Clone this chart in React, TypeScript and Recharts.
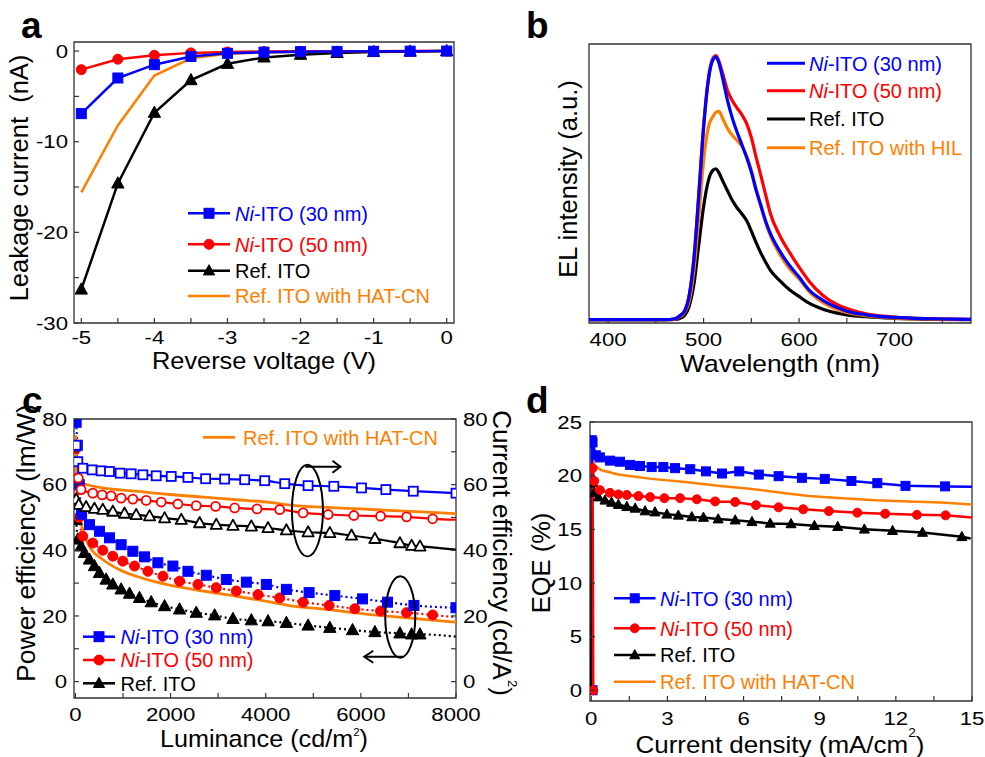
import React from 'react';
import { LineChart, Line, XAxis, YAxis, ReferenceArea, ReferenceDot } from 'recharts';

const FONT = '"Liberation Sans", Arial, Helvetica, sans-serif';
const BLUE = '#0000FF';
const RED = '#FF0000';
const BLACK = '#000000';
const ORANGE = '#FF8000';
const FRAME = '#333333';
const W = 985;
const H = 757;
const TICK_FS = 18.5;
const TICK_SX = 1.2;

// ---------------- Panel a : leakage current ----------------
const voltage = [-5, -4.5, -4, -3.5, -3, -2.5, -2, -1.5, -1, -0.5, 0];
const leakNi30 = [-6.9, -2.97, -1.5, -0.6, -0.25, -0.12, -0.07, -0.04, -0.02, -0.01, 0];
const leakNi50 = [-2.05, -0.9, -0.47, -0.2, -0.1, -0.05, -0.03, -0.02, -0.01, 0, 0];
const leakRef = [-26.3, -14.6, -6.8, -3.2, -1.4, -0.7, -0.4, -0.2, -0.1, -0.05, 0];
const leakHat = [-15.6, -8.2, -2.7, -0.8, -0.3, -0.15, -0.08, -0.05, -0.02, -0.01, 0];
const aXTicks = [-5, -4.5, -4, -3.5, -3, -2.5, -2, -1.5, -1, -0.5, 0];
const aYTicks = [-30, -25, -20, -15, -10, -5, 0];

// ---------------- Panel b : EL spectra ----------------
const wavelength = [380, 460, 470, 475, 480, 485, 490, 495, 500, 505, 510, 513, 516, 520, 525, 530, 535, 540, 545, 550, 555, 560, 565, 570, 580, 590, 600, 610, 625, 640, 650, 670, 700, 740, 780];
const elNi30 = [0, 0, 0.3, 1.2, 2.6, 7.5, 19, 38, 58.5, 73, 79.3, 80, 78.3, 73.5, 66.8, 61.5, 57.2, 53.4, 49.5, 45, 39.4, 34.8, 30, 26.2, 20.8, 16.5, 13, 9.2, 5.9, 3.7, 2.6, 1.5, 0.7, 0.3, 0.1];
const elNi50 = [0, 0, 0.3, 1.2, 2.6, 7.5, 19, 38.5, 59, 73.5, 79.8, 80.5, 78.8, 75, 69.8, 66.8, 64.5, 62.5, 59.8, 55.5, 49.5, 43.9, 38, 32.3, 25.5, 20.5, 16, 11.9, 7.4, 4.6, 3.4, 1.8, 0.8, 0.3, 0.1];
const elRef = [0, 0, 0.1, 0.4, 1.3, 4.2, 11, 23, 34.5, 42.4, 45.6, 46, 44.8, 42.3, 39.3, 36.4, 34.1, 32.3, 30.2, 27, 23.5, 20.3, 17.5, 15, 11.8, 9.1, 7.1, 5.1, 3.2, 2.0, 1.5, 0.9, 0.4, 0.1, 0];
const elHil = [0, 0, 0.2, 0.9, 2.2, 5.8, 15.5, 31.5, 48.5, 58.7, 62, 63.2, 63.5, 61.3, 58.3, 56.2, 54.6, 52.9, 50, 45.5, 40, 34.5, 29.5, 25.5, 19.8, 15.5, 12.4, 8.7, 5.2, 3.1, 2.2, 1.2, 0.5, 0.2, 0.05];
const bXTicks = [400, 450, 500, 550, 600, 650, 700, 750];

// ---------------- Panel c : efficiencies vs luminance ----------------
// current efficiency (right axis, open symbols)
const ceNi30 = [[10, 72], [50, 67], [154, 65], [351, 64.5], [540, 64.2], [716, 64.0], [940, 63.5], [1172, 63.3], [1418, 63.0], [1698, 62.7], [2014, 62.5], [2365, 62.2], [2737, 61.8], [3137, 61.7], [3558, 61.5], [3979, 61.2], [4400, 60.3], [4891, 59.7], [5432, 59.5], [6014, 59.0], [6526, 58.5], [7102, 58.0], [8000, 57.4]];
const ceNi50 = [[15, 72], [60, 62], [119, 58.5], [365, 57.4], [561, 56.9], [751, 56.6], [961, 55.9], [1207, 55.6], [1488, 55.2], [1804, 54.7], [2154, 54.1], [2540, 53.6], [2947, 53.4], [3347, 52.9], [3818, 52.6], [4295, 52.4], [4786, 51.4], [5312, 50.9], [5853, 50.6], [6414, 50.4], [6961, 50.2], [7509, 49.6], [8000, 49.3]];
const ceRef = [[15, 55.5], [70, 53.9], [225, 53.2], [400, 52.7], [575, 52.4], [786, 51.8], [1032, 51.2], [1277, 50.8], [1558, 50.4], [1874, 49.8], [2225, 49.3], [2611, 48.3], [2961, 47.8], [3312, 47.5], [3698, 47.3], [4049, 46.8], [4435, 46.1], [4891, 45.5], [5347, 45.3], [5804, 44.5], [6295, 43.5], [6821, 42.2], [7067, 41.4], [7242, 41.2], [8000, 40.2]];
const ceHat = [[5, 75], [25, 66], [60, 61.5], [154, 60.5], [575, 59], [1277, 58], [1979, 57], [2681, 56.2], [3382, 55.4], [4084, 54.6], [4575, 53.7], [5277, 53.1], [5979, 52.6], [6681, 52.1], [7382, 51.6], [8000, 51.2]];
// power efficiency (left axis, filled symbols)
const peNi30 = [[15, 79], [40, 72], [80, 60], [130, 51], [295, 47.8], [505, 45.8], [716, 43.8], [961, 41.7], [1207, 39.7], [1453, 38.0], [1733, 36.2], [2049, 35.2], [2365, 33.6], [2751, 32.4], [3172, 31.1], [3593, 30.3], [4014, 29.6], [4435, 28.1], [4912, 27.1], [5453, 26.2], [6035, 25.2], [6561, 24.2], [7116, 23.2], [8000, 22.5]];
const peNi50 = [[15, 71], [40, 62], [80, 50], [154, 44.3], [365, 42.2], [575, 40.0], [786, 38.2], [996, 36.7], [1242, 35.2], [1523, 33.6], [1839, 32.1], [2190, 30.6], [2575, 29.6], [2961, 28.6], [3382, 27.6], [3839, 26.5], [4295, 25.5], [4786, 24.2], [5333, 23.2], [5874, 22.2], [6414, 21.5], [6961, 21.0], [7509, 20.3], [8000, 19.6]];
const peRef = [[15, 49.3], [49, 43.3], [119, 41.2], [190, 39.2], [295, 37.2], [400, 35.2], [505, 33.1], [646, 31.1], [786, 29.6], [961, 28.1], [1137, 26.8], [1347, 25.5], [1593, 24.2], [1874, 23.0], [2190, 22.0], [2540, 21.0], [2926, 20.2], [3312, 19.1], [3698, 18.7], [4049, 18.4], [4435, 17.9], [4891, 17.1], [5347, 16.4], [5825, 15.7], [6295, 15.1], [6821, 14.7], [7067, 14.4], [7242, 14.4], [8000, 13.7]];
const peHat = [[5, 74], [20, 62], [49, 54.4], [154, 46.3], [295, 41.2], [575, 37.2], [926, 34.1], [1277, 32.1], [1628, 30.6], [1979, 29.4], [2681, 27.6], [3382, 26.0], [4084, 24.3], [4575, 23.0], [5277, 22.0], [5979, 20.8], [6681, 19.8], [7382, 18.9], [8000, 18.1]];
const cXTicks = [0, 1000, 2000, 3000, 4000, 5000, 6000, 7000, 8000];
const cYTicks = [0, 10, 20, 30, 40, 50, 60, 70, 80];
// annotation anchors (data coordinates)
const ceLoop = [4877, 52.1];
const peLoop = [6828, 19.7];

// ---------------- Panel d : EQE vs current density ----------------
const eqeNi30 = [[0.05, 0], [0.02, 23.3], [0.05, 23.1], [0.18, 21.9], [0.34, 21.7], [0.74, 21.4], [1.13, 21.3], [1.53, 21.0], [1.92, 20.9], [2.38, 20.8], [2.84, 20.8], [3.3, 20.7], [3.9, 20.6], [4.52, 20.4], [5.15, 20.2], [5.83, 20.4], [6.6, 20.1], [7.38, 19.95], [8.3, 19.8], [9.2, 19.7], [10.25, 19.5], [11.27, 19.3], [12.38, 19.05], [13.94, 19.0], [15.0, 18.97]];
const eqeNi50 = [[0.08, 0], [0.05, 20.7], [0.12, 19.5], [0.34, 18.65], [0.74, 18.4], [1.07, 18.25], [1.4, 18.2], [1.86, 18.1], [2.32, 18.0], [2.88, 17.9], [3.5, 17.9], [4.16, 17.8], [4.88, 17.6], [5.67, 17.55], [6.49, 17.25], [7.38, 17.05], [8.35, 16.87], [9.36, 16.7], [10.48, 16.55], [11.58, 16.45], [12.83, 16.35], [13.96, 16.3], [15.0, 16.1]];
const eqeRef = [[0.0, 0], [0.02, 19.3], [0.12, 18.4], [0.28, 18.0], [0.54, 17.7], [0.8, 17.5], [1.07, 17.3], [1.4, 17.1], [1.73, 16.95], [2.12, 16.7], [2.51, 16.6], [2.98, 16.4], [3.43, 16.3], [3.96, 16.15], [4.42, 16.1], [5.0, 15.95], [5.67, 15.85], [6.33, 15.7], [7.05, 15.55], [7.87, 15.5], [8.79, 15.33], [9.71, 15.24], [10.76, 15.0], [11.87, 14.87], [13.05, 14.7], [14.6, 14.3], [14.95, 14.15]];
const eqeHat = [[0.04, 20.8], [0.06, 22.0], [0.1, 21.0], [0.41, 20.5], [1.07, 20.1], [1.73, 19.9], [2.38, 19.7], [3.7, 19.4], [5.0, 19.05], [6.33, 18.75], [7.65, 18.35], [8.57, 18.1], [9.89, 17.9], [11.2, 17.7], [12.5, 17.6], [13.8, 17.5], [15.0, 17.3]];
const dXTicks = [0, 1.5, 3, 4.5, 6, 7.5, 9, 10.5, 12, 13.5, 15];
const dYTicks = [0, 5, 10, 15, 20, 25];

// ---------------- helpers ----------------
const zip = (xs: number[], ys: number[]) => xs.map((x, i) => ({ x, y: ys[i] }));
const fromPairs = (p: number[][]) => p.map(([x, y]) => ({ x, y }));

function MarkerShape({ cx, cy, shape, size, color, open }: any) {
  if (cx == null || cy == null || isNaN(cx) || isNaN(cy)) return null;
  const fill = open ? '#ffffff' : color;
  const sw = open ? 1.8 : 1;
  if (shape === 'square')
    return <rect x={cx - size / 2} y={cy - size / 2} width={size} height={size} fill={fill} stroke={color} strokeWidth={sw} />;
  if (shape === 'circle') return <circle cx={cx} cy={cy} r={size / 2} fill={fill} stroke={color} strokeWidth={sw} />;
  const pts = `${cx},${cy - size * 0.6} ${cx + size * 0.56},${cy + size * 0.42} ${cx - size * 0.56},${cy + size * 0.42}`;
  return <polygon points={pts} fill={fill} stroke={color} strokeWidth={sw} strokeLinejoin="round" />;
}

const dotFn = (shape: string, size: number, color: string, open = false, n = 0, skipLast = false) => (p: any) => {
  if (skipLast && p.index === n - 1) return <g key={`k${p.index}`} />;
  return <MarkerShape key={`k${p.index}`} cx={p.cx} cy={p.cy} shape={shape} size={size} color={color} open={open} />;
};

type TickCfg = { side: 'bottom' | 'left' | 'right'; major: (v: number) => boolean; off: number; len?: number };
const makeTick = (cfg: TickCfg) => (props: any) => {
  const { x, y, payload } = props;
  const v = payload.value;
  const len = cfg.len ?? 5;
  const label = cfg.major(v) ? String(v) : '';
  if (cfg.side === 'bottom') {
    return (
      <g>
        <line x1={x} y1={y} x2={x} y2={y - len} stroke={FRAME} strokeWidth={1.2} />
        {label && (
          <text transform={`translate(${x},${y + cfg.off}) scale(${TICK_SX},1)`} textAnchor="middle" fontSize={TICK_FS} fontFamily={FONT} fill="#000">
            {label}
          </text>
        )}
      </g>
    );
  }
  const dir = cfg.side === 'left' ? 1 : -1;
  return (
    <g>
      <line x1={x} y1={y} x2={x + dir * len} y2={y} stroke={FRAME} strokeWidth={1.2} />
      {label && (
        <text
          transform={`translate(${x - dir * cfg.off},${y}) scale(${TICK_SX},1)`}
          dy="0.36em"
          textAnchor={cfg.side === 'left' ? 'end' : 'start'}
          fontSize={TICK_FS}
          fontFamily={FONT}
          fill="#000"
        >
          {label}
        </text>
      )}
    </g>
  );
};

const isInt = (v: number) => Math.abs(v - Math.round(v)) < 1e-6;
const axisCommon = { tickSize: 0, tickMargin: 0, tickLine: false, axisLine: false, interval: 0 as const, allowDataOverflow: true };

// ---------------- plot rectangles (layout) ----------------
const A = { l: 74, r: 454, t: 42, b: 323 };
const B = { l: 589, r: 971, t: 44, b: 323 };
const C = { l: 74, r: 456, t: 419, b: 698 };
const D = { l: 590, r: 972, t: 422, b: 701 };

function PanelA() {
  const xd: [number, number] = [-5.1, 0.1];
  const yd: [number, number] = [-30, 1];
  return (
    <LineChart width={W} height={H} margin={{ top: A.t, left: A.l - 60, right: W - A.r, bottom: H - A.b - 30 }}>
      <XAxis xAxisId="x" type="number" dataKey="x" domain={xd} ticks={aXTicks} height={30} {...axisCommon}
        tick={makeTick({ side: 'bottom', major: isInt, off: 21 })} />
      <YAxis yAxisId="y" type="number" dataKey="y" domain={yd} ticks={aYTicks} width={60} {...axisCommon}
        tick={makeTick({ side: 'left', major: (v) => v % 10 === 0, off: 6 })} />
      <ReferenceArea xAxisId="x" yAxisId="y" x1={xd[0]} x2={xd[1]} y1={yd[0]} y2={yd[1]} fill="none" fillOpacity={0} stroke={FRAME} strokeWidth={1.3} ifOverflow="visible" />
      <Line xAxisId="x" yAxisId="y" data={zip(voltage, leakHat)} dataKey="y" stroke={ORANGE} strokeWidth={2.5} dot={false} activeDot={false} isAnimationActive={false} />
      <Line xAxisId="x" yAxisId="y" data={zip(voltage, leakRef)} dataKey="y" stroke={BLACK} strokeWidth={2.5} dot={dotFn('triangle', 11, BLACK)} activeDot={false} isAnimationActive={false} />
      <Line xAxisId="x" yAxisId="y" data={zip(voltage, leakNi50)} dataKey="y" stroke={RED} strokeWidth={2.5} dot={dotFn('circle', 10, RED)} activeDot={false} isAnimationActive={false} />
      <Line xAxisId="x" yAxisId="y" data={zip(voltage, leakNi30)} dataKey="y" stroke={BLUE} strokeWidth={2.5} dot={dotFn('square', 10, BLUE)} activeDot={false} isAnimationActive={false} />
    </LineChart>
  );
}

function PanelB() {
  const xd: [number, number] = [380, 780];
  const yd: [number, number] = [-1, 84];
  const lp = { xAxisId: 'x', yAxisId: 'y', dataKey: 'y', type: 'monotone' as const, strokeWidth: 3.2, dot: false, activeDot: false, isAnimationActive: false };
  return (
    <LineChart width={W} height={H} margin={{ top: B.t, left: B.l - 60, right: W - B.r, bottom: H - B.b - 30 }}>
      <XAxis xAxisId="x" type="number" dataKey="x" domain={xd} ticks={bXTicks} height={30} {...axisCommon}
        tick={makeTick({ side: 'bottom', major: (v) => v % 100 === 0, off: 23 })} />
      <YAxis yAxisId="y" type="number" dataKey="y" domain={yd} width={60} {...axisCommon} tick={false} />
      <ReferenceArea xAxisId="x" yAxisId="y" x1={xd[0]} x2={xd[1]} y1={yd[0]} y2={yd[1]} fill="none" fillOpacity={0} stroke={FRAME} strokeWidth={1.3} ifOverflow="visible" />
      <Line {...lp} data={zip(wavelength, elRef)} stroke={BLACK} />
      <Line {...lp} data={zip(wavelength, elHil)} stroke={ORANGE} />
      <Line {...lp} data={zip(wavelength, elNi50)} stroke={RED} />
      <Line {...lp} data={zip(wavelength, elNi30)} stroke={BLUE} />
    </LineChart>
  );
}

function LoopShape({ cx, cy, rx, ry, dir }: any) {
  if (cx == null || cy == null) return null;
  if (dir > 0) {
    const ay = cy - ry + 2;
    return (
      <g fill="none" stroke="#000" strokeWidth={2}>
        <ellipse cx={cx} cy={cy} rx={rx} ry={ry} />
        <path d={`M${cx - 2},${ay} H${cx + 33}`} />
        <path d={`M${cx + 25},${ay - 6} L${cx + 33},${ay} L${cx + 25},${ay + 6}`} />
      </g>
    );
  }
  const ay = cy + ry - 1;
  return (
    <g fill="none" stroke="#000" strokeWidth={2}>
      <ellipse cx={cx} cy={cy} rx={rx} ry={ry} />
      <path d={`M${cx + 3},${ay} H${cx - 36}`} />
      <path d={`M${cx - 27},${ay - 6} L${cx - 36},${ay} L${cx - 27},${ay + 6}`} />
    </g>
  );
}

function PanelC() {
  const xd: [number, number] = [-30, 8000];
  const yd: [number, number] = [-5, 80];
  const base = { xAxisId: 'x', dataKey: 'y', type: 'monotone' as const, activeDot: false as const, isAnimationActive: false };
  return (
    <LineChart width={W} height={H} margin={{ top: C.t, left: C.l - 60, right: W - C.r - 60, bottom: H - C.b - 30 }}>
      <XAxis xAxisId="x" type="number" dataKey="x" domain={xd} ticks={cXTicks} height={30} {...axisCommon}
        tick={makeTick({ side: 'bottom', major: (v) => v % 2000 === 0, off: 23 })} />
      <YAxis yAxisId="l" type="number" dataKey="y" domain={yd} ticks={cYTicks} width={60} {...axisCommon}
        tick={makeTick({ side: 'left', major: (v) => v % 20 === 0, off: 7 })} />
      <YAxis yAxisId="r" orientation="right" type="number" dataKey="y" domain={yd} ticks={cYTicks} width={60} {...axisCommon}
        tick={makeTick({ side: 'right', major: (v) => v % 20 === 0, off: 7 })} />
      <ReferenceArea xAxisId="x" yAxisId="l" x1={xd[0]} x2={xd[1]} y1={yd[0]} y2={yd[1]} fill="none" fillOpacity={0} stroke={FRAME} strokeWidth={1.3} ifOverflow="visible" />
      {/* power efficiency, filled symbols, dotted */}
      <Line {...base} yAxisId="l" data={fromPairs(peRef)} stroke={BLACK} strokeWidth={2.2} strokeDasharray="2 3" dot={dotFn('triangle', 11, BLACK, false, peRef.length, true)} />
      <Line {...base} yAxisId="l" data={fromPairs(peNi50)} stroke={RED} strokeWidth={2.2} strokeDasharray="2 3" dot={dotFn('circle', 10, RED, false, peNi50.length, true)} />
      <Line {...base} yAxisId="l" data={fromPairs(peNi30)} stroke={BLUE} strokeWidth={2.2} strokeDasharray="2 3" dot={dotFn('square', 10, BLUE)} />
      <Line {...base} yAxisId="l" data={fromPairs(peHat)} stroke={ORANGE} strokeWidth={2.8} dot={false} />
      {/* current efficiency, open symbols, solid */}
      <Line {...base} yAxisId="r" data={fromPairs(ceRef)} stroke={BLACK} strokeWidth={2.2} dot={dotFn('triangle', 10, BLACK, true, ceRef.length, true)} />
      <Line {...base} yAxisId="r" data={fromPairs(ceNi50)} stroke={RED} strokeWidth={2.2} dot={dotFn('circle', 9, RED, true, ceNi50.length, true)} />
      <Line {...base} yAxisId="r" data={fromPairs(ceNi30)} stroke={BLUE} strokeWidth={2.2} dot={dotFn('square', 9, BLUE, true)} />
      <Line {...base} yAxisId="r" data={fromPairs(ceHat)} stroke={ORANGE} strokeWidth={2.8} dot={false} />
      <ReferenceDot xAxisId="x" yAxisId="l" x={ceLoop[0]} y={ceLoop[1]} r={0} ifOverflow="visible"
        shape={(p: any) => <LoopShape cx={p.cx} cy={p.cy} rx={15.5} ry={45.8} dir={1} />} />
      <ReferenceDot xAxisId="x" yAxisId="l" x={peLoop[0]} y={peLoop[1]} r={0} ifOverflow="visible"
        shape={(p: any) => <LoopShape cx={p.cx} cy={p.cy} rx={15} ry={40.8} dir={-1} />} />
    </LineChart>
  );
}

function PanelD() {
  const xd: [number, number] = [-0.05, 15];
  const yd: [number, number] = [-1, 25];
  const base = { xAxisId: 'x', yAxisId: 'y', dataKey: 'y', type: 'linear' as const, activeDot: false as const, isAnimationActive: false, strokeWidth: 2.5 };
  return (
    <LineChart width={W} height={H} margin={{ top: D.t, left: D.l - 60, right: W - D.r, bottom: H - D.b - 30 }}>
      <XAxis xAxisId="x" type="number" dataKey="x" domain={xd} ticks={dXTicks} height={30} {...axisCommon}
        tick={makeTick({ side: 'bottom', major: (v) => v % 3 === 0, off: 23.5 })} />
      <YAxis yAxisId="y" type="number" dataKey="y" domain={yd} ticks={dYTicks} width={60} {...axisCommon}
        tick={makeTick({ side: 'left', major: () => true, off: 8 })} />
      <ReferenceArea xAxisId="x" yAxisId="y" x1={xd[0]} x2={xd[1]} y1={yd[0]} y2={yd[1]} fill="none" fillOpacity={0} stroke={FRAME} strokeWidth={1.3} ifOverflow="visible" />
      <Line {...base} data={fromPairs(eqeHat)} stroke={ORANGE} dot={false} />
      <Line {...base} data={fromPairs(eqeNi30)} stroke={BLUE} dot={dotFn('square', 9, BLUE, false, eqeNi30.length, true)} />
      <Line {...base} data={fromPairs(eqeRef)} stroke={BLACK} dot={dotFn('triangle', 9, BLACK, false, eqeRef.length, true)} />
      <Line {...base} data={fromPairs(eqeNi50)} stroke={RED} dot={dotFn('circle', 9, RED, false, eqeNi50.length, true)} />
    </LineChart>
  );
}

// ---------------- legends & titles ----------------
const niLabel = (t: string) => (
  <>
    <tspan fontStyle="italic">Ni</tspan>
    {t}
  </>
);

type Row = { color: string; shape?: string; label: React.ReactNode };
const fourRows: Row[] = [
  { color: BLUE, shape: 'square', label: niLabel('-ITO (30 nm)') },
  { color: RED, shape: 'circle', label: niLabel('-ITO (50 nm)') },
  { color: BLACK, shape: 'triangle', label: 'Ref. ITO' },
  { color: ORANGE, label: 'Ref. ITO with HAT-CN' },
];
const bRows: Row[] = [
  { color: BLUE, label: niLabel('-ITO (30 nm)') },
  { color: RED, label: niLabel('-ITO (50 nm)') },
  { color: BLACK, label: 'Ref. ITO' },
  { color: ORANGE, label: 'Ref. ITO with HIL' },
];

function LegendBlock({ rows, x1, x2, tx, ys, size, lw }: any) {
  return (
    <g>
      {rows.map((r: Row, i: number) => (
        <g key={i}>
          <line x1={x1} y1={ys[i]} x2={x2} y2={ys[i]} stroke={r.color} strokeWidth={lw} />
          {r.shape && <MarkerShape cx={(x1 + x2) / 2} cy={ys[i]} shape={r.shape} size={size} color={r.color} />}
          <text x={tx} y={ys[i] + 7.3} fontSize={20} fill={r.color}>
            {r.label}
          </text>
        </g>
      ))}
    </g>
  );
}

function Overlay() {
  const vt = 25.5;
  return (
    <svg width={W} height={H} style={{ position: 'absolute', left: 0, top: 0, pointerEvents: 'none' }} fontFamily={FONT}>
      {/* panel letters */}
      <text x={21} y={38} fontSize={37} fontWeight="bold">a</text>
      <text x={526} y={38} fontSize={37} fontWeight="bold">b</text>
      <text x={22} y={413} fontSize={37} fontWeight="bold">c</text>
      <text x={526} y={413} fontSize={37} fontWeight="bold">d</text>

      {/* panel a titles */}
      <text transform="translate(19.5,178) rotate(-90)" dy="0.35em" textAnchor="middle" fontSize={vt} xmlSpace="preserve">Leakage current  (nA)</text>
      <text transform="translate(264,368.5) scale(1.08,1)" textAnchor="middle" fontSize={23.5}>Reverse voltage (V)</text>

      {/* panel b titles */}
      <text transform="translate(568,179) rotate(-90)" dy="0.35em" textAnchor="middle" fontSize={vt}>EL intensity (a.u.)</text>
      <text transform="translate(780,372) scale(1.1,1)" textAnchor="middle" fontSize={24}>Wavelength (nm)</text>

      {/* panel c titles */}
      <text transform="translate(25.5,543) rotate(-90)" dy="0.35em" textAnchor="middle" fontSize={26.5}>Power efficiency (lm/W)</text>
      <text transform="translate(264,746.5) scale(1.05,1)" textAnchor="middle" fontSize={24}>
        Luminance (cd/m<tspan fontSize={11} dy={-11}>2</tspan><tspan dy={11}>)</tspan>
      </text>
      <text transform="translate(502,553) rotate(90)" dy="0.35em" textAnchor="middle" fontSize={26}>
        Current efficiency (cd/A<tspan fontSize={13} dy={-15}>2</tspan><tspan dy={15}>)</tspan>
      </text>

      {/* panel d titles */}
      <text transform="translate(541,563) rotate(-90)" dy="0.35em" textAnchor="middle" fontSize={vt}>EQE (%)</text>
      <text transform="translate(780,752.5) scale(1.06,1)" textAnchor="middle" fontSize={24.5}>
        Current density (mA/cm<tspan fontSize={13} dy={-16}>2</tspan><tspan dy={16}>)</tspan>
      </text>

      {/* legends */}
      <LegendBlock rows={fourRows} x1={188} x2={230} tx={235} ys={[213.3, 244.3, 270.7, 296]} size={10} lw={2.5} />
      <LegendBlock rows={bRows} x1={767} x2={805} tx={809} ys={[63.3, 90.7, 119, 147.7]} size={0} lw={3} />
      <LegendBlock rows={[fourRows[3]]} x1={203} x2={235} tx={243} ys={[437.3]} size={0} lw={2.8} />
      <LegendBlock rows={fourRows.slice(0, 3)} x1={83} x2={115} tx={120.5} ys={[636.7, 660, 683.3]} size={10} lw={2.5} />
      <LegendBlock rows={fourRows} x1={614} x2={655.5} tx={660} ys={[598.3, 628.3, 655, 681.7]} size={9} lw={2.5} />
    </svg>
  );
}

export default function App() {
  const abs: React.CSSProperties = { position: 'absolute', left: 0, top: 0 };
  return (
    <div style={{ position: 'absolute', left: 0, top: 0, width: W, height: H, background: '#ffffff', fontFamily: FONT, overflow: 'hidden' }}>
      <div style={abs}><PanelA /></div>
      <div style={abs}><PanelB /></div>
      <div style={abs}><PanelC /></div>
      <div style={abs}><PanelD /></div>
      <Overlay />
    </div>
  );
}
